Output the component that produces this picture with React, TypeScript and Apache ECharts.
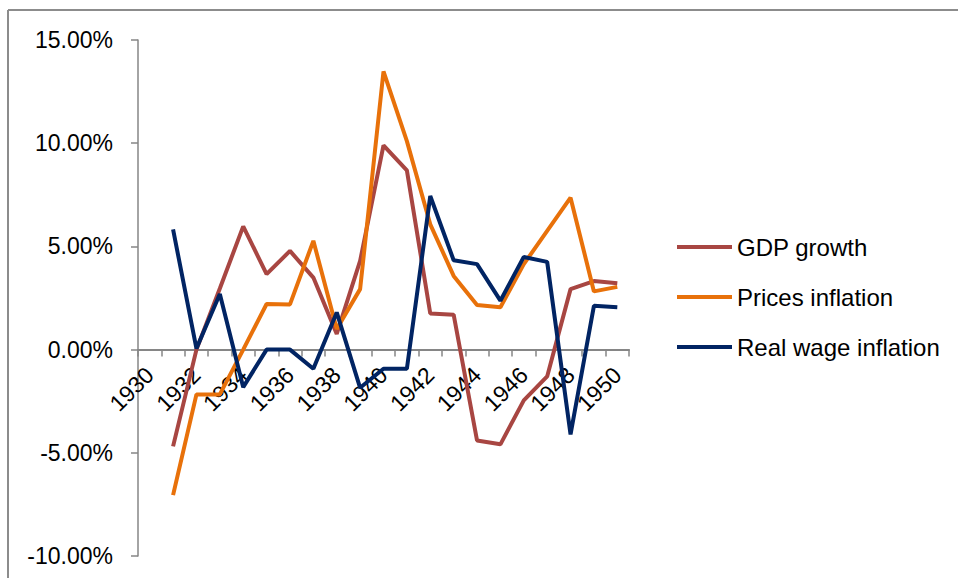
import React, { useEffect, useRef } from "react";
import * as echarts from "echarts";

const years = ["1930","1931","1932","1933","1934","1935","1936","1937","1938","1939","1940","1941","1942","1943","1944","1945","1946","1947","1948","1949","1950"];
const gdpGrowth = [null, -4.69, 0.0, 2.96, 5.97, 3.66, 4.78, 3.49, 0.76, 4.3, 9.89, 8.68, 1.75, 1.69, -4.4, -4.59, -2.46, -1.3, 2.93, 3.32, 3.21];
const pricesInflation = [null, -7.05, -2.17, -2.17, 0.0, 2.21, 2.19, 5.27, 1.0, 2.93, 13.48, 10.1, 6.07, 3.57, 2.16, 2.05, 4.14, 5.75, 7.36, 2.82, 3.04];
const realWageInflation = [null, 5.82, 0.05, 2.69, -1.82, 0.0, 0.0, -0.93, 1.8, -1.85, -0.93, -0.93, 7.44, 4.33, 4.14, 2.37, 4.49, 4.25, -4.11, 2.12, 2.05];
const seriesNames = ["GDP growth", "Prices inflation", "Real wage inflation"];
const seriesColors = ["#A84642", "#E8710A", "#012463"];

const FONT = "Liberation Sans";

export default function App() {
  const ref = useRef<HTMLDivElement>(null);
  useEffect(() => {
    if (!ref.current) return;
    const chart = echarts.init(ref.current, null, { renderer: "svg" });
    const datasets = [gdpGrowth, pricesInflation, realWageInflation];
    chart.setOption({
      animation: false,
      backgroundColor: "#ffffff",
      textStyle: { fontFamily: FONT },
      grid: [
        { left: 138, top: 40, width: 491, height: 516, containLabel: false, outerBoundsMode: "none" },
        { left: 138, top: 40, width: 491, height: 309, containLabel: false, outerBoundsMode: "none" },
      ],
      legend: {
        orient: "vertical",
        left: 677,
        top: 234,
        padding: 0,
        icon: "rect",
        itemWidth: 55,
        itemHeight: 4,
        itemGap: 24,
        data: seriesNames,
        textStyle: { fontFamily: FONT, fontSize: 24, color: "#000", lineHeight: 26 },
      },
      xAxis: [
        {
          type: "category",
          gridIndex: 0,
          data: years,
          boundaryGap: true,
          axisLine: { show: true, onZero: true, lineStyle: { color: "#868686", width: 2 } },
          axisTick: { show: true, interval: 0, length: 7, lineStyle: { color: "#868686", width: 1.5 } },
          axisLabel: { show: false },
          splitLine: { show: false },
        },
        {
          type: "category",
          gridIndex: 1,
          data: years,
          boundaryGap: true,
          position: "bottom",
          axisLine: { show: false, onZero: false },
          axisTick: { show: false },
          axisLabel: {
            interval: 1,
            rotate: 45,
            margin: 22,
            color: "#000",
            fontFamily: FONT,
            fontSize: 23,
          },
          splitLine: { show: false },
        },
      ],
      yAxis: [
        {
          type: "value",
          gridIndex: 0,
          min: -10,
          max: 15,
          interval: 5,
          axisLine: { show: true, lineStyle: { color: "#868686", width: 1.5 } },
          axisTick: { show: true, length: 7, lineStyle: { color: "#868686", width: 1.5 } },
          axisLabel: {
            margin: 25,
            color: "#000",
            fontFamily: FONT,
            fontSize: 23,
            formatter: (v: number) => v.toFixed(2) + "%",
          },
          splitLine: { show: false },
        },
        {
          type: "value",
          gridIndex: 1,
          min: 0,
          max: 15,
          interval: 5,
          show: false,
          splitLine: { show: false },
        },
      ],
      series: datasets.map((d, i) => ({
        name: seriesNames[i],
        type: "line",
        xAxisIndex: 0,
        yAxisIndex: 0,
        data: d,
        showSymbol: false,
        symbol: "none",
        connectNulls: false,
        lineStyle: { color: seriesColors[i], width: 4 },
        itemStyle: { color: seriesColors[i] },
      })),
      graphic: [
        { type: "line", shape: { x1: 8, y1: 10, x2: 958, y2: 10 }, style: { stroke: "#8c8c8c", lineWidth: 2 } },
        { type: "line", shape: { x1: 8, y1: 10, x2: 8, y2: 578 }, style: { stroke: "#8c8c8c", lineWidth: 2 } },
      ],
    });
    return () => chart.dispose();
  }, []);
  return (
    <div
      ref={ref}
      style={{ position: "fixed", left: 0, top: 0, width: 959, height: 578, background: "#fff" }}
    />
  );
}
